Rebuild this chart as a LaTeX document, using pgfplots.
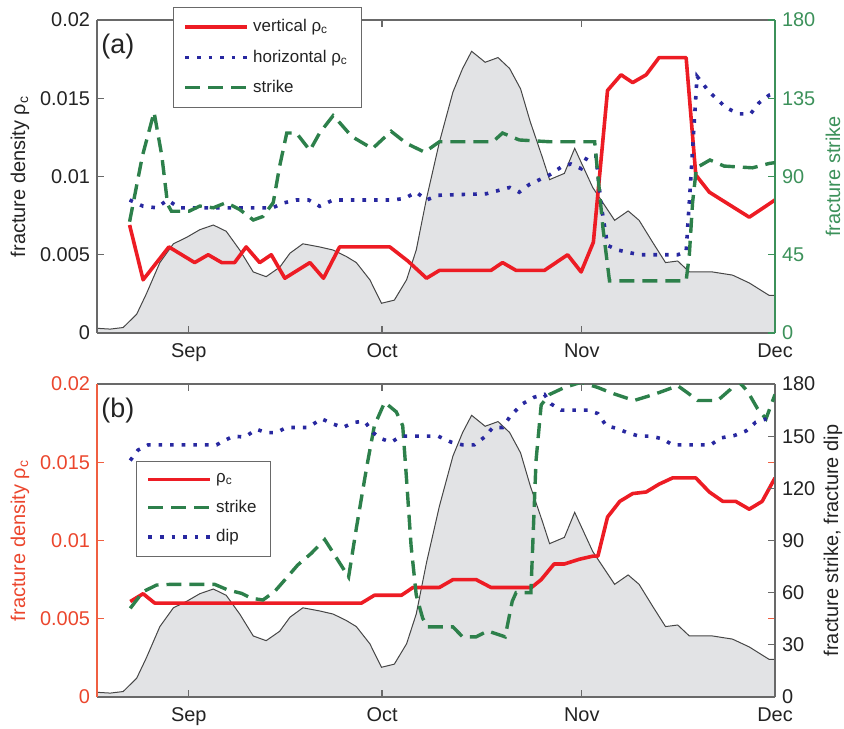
\documentclass[border=0pt]{standalone}
\usepackage{pgfplots}
\pgfplotsset{compat=1.18}
\usepackage{pgfplotstable}
\usepackage{fontspec}
\setmainfont{Liberation Sans}

\definecolor{rline}{RGB}{237,28,36}
\definecolor{bline}{RGB}{40,40,160}
\definecolor{gline}{RGB}{45,128,75}
\definecolor{gtext}{RGB}{60,145,90}
\definecolor{oaxis}{RGB}{240,95,65}
\definecolor{otext}{RGB}{235,70,45}
\definecolor{fillg}{RGB}{226,227,229}
\definecolor{curveg}{RGB}{70,70,70}
\definecolor{axg}{RGB}{105,105,105}
\definecolor{txt}{RGB}{35,35,35}

% x = days since 1 Sep
\pgfplotstableread{
x y
-14.26 0.0003
-12.2 0.00025
-10.2 0.00035
-8.1 0.0012
-6.6 0.0025
-4.5 0.0045
-2.4 0.0057
-0.4 0.0061
1.7 0.0066
3.8 0.0069
5.8 0.0065
7.9 0.0053
10.0 0.0039
12.0 0.0036
14.1 0.0042
15.7 0.0051
17.7 0.0057
20.3 0.0055
22.4 0.0053
24.4 0.0049
26.0 0.0045
28.1 0.0034
29.9 0.0019
31.9 0.0021
33.8 0.0034
35.3 0.0053
36.9 0.0086
38.9 0.0122
41.0 0.0154
42.5 0.0169
43.9 0.0180
46.0 0.0173
48.0 0.0176
49.8 0.0169
51.5 0.0156
53.0 0.0135
54.9 0.0112
56.0 0.0098
58.3 0.0102
59.9 0.0118
62.7 0.0093
66.1 0.0072
68.2 0.0078
69.9 0.0072
72.0 0.0058
74.0 0.0045
75.9 0.0046
77.7 0.0039
81.3 0.0039
84.4 0.0037
87.0 0.0032
90.1 0.0024
91.0 0.0024
}\grayt

\pgfplotstableread{
x y
-9.2 0.0069
-7.1 0.0034
-3.1 0.0055
0.9 0.0045
3.0 0.0050
5.1 0.0045
7.1 0.0045
8.9 0.0055
11.0 0.0045
12.8 0.0050
14.9 0.0035
18.8 0.0045
20.9 0.0035
23.4 0.0055
31.2 0.0055
34.0 0.0046
36.9 0.0035
38.9 0.0040
46.9 0.0040
48.7 0.0045
50.8 0.0040
55.2 0.0040
58.8 0.0050
60.9 0.0039
62.8 0.0058
65.0 0.0155
67.1 0.0165
68.9 0.0160
71.0 0.0165
73.0 0.0176
77.2 0.0176
78.7 0.0101
80.8 0.0090
87.0 0.0074
91.0 0.0085
}\redA

\pgfplotstableread{
x y
-9.2 0.0085
-7.1 0.0081
-5.0 0.0080
-3.3 0.0085
-1.5 0.0080
13.0 0.0080
14.6 0.0083
16.7 0.0085
18.6 0.0085
20.3 0.0081
22.4 0.0085
31.6 0.0085
33.5 0.0086
35.3 0.0090
36.9 0.0085
38.7 0.0088
46.2 0.0089
49.8 0.0093
51.3 0.0090
52.9 0.0095
56.0 0.0101
57.8 0.0106
59.3 0.0108
60.9 0.0105
61.9 0.0113
63.2 0.0113
64.0 0.0082
65.0 0.0056
66.6 0.0053
69.9 0.0050
75.9 0.0050
77.2 0.0052
77.9 0.0097
78.9 0.0164
80.8 0.0154
83.4 0.0144
85.4 0.0140
87.2 0.0140
88.5 0.0147
90.1 0.0152
91.0 0.0153
}\blueA

\pgfplotstableread{
x y
-9.2 64
-7.2 102
-5.4 127
-4.2 102
-3.3 74
-2.7 70
0.0 70
1.7 73
3.8 72
5.8 75
7.9 71
10.0 65
11.5 67
13.1 75
14.1 96
15.2 115
16.7 115
18.8 105
20.3 115
22.4 125
23.4 121
25.3 113
28.5 106
31.4 116
33.8 109
36.6 104
38.9 110
47.2 110
48.7 115
51.3 111
56.0 110
63.0 110
64.3 60
64.8 45
65.3 30
77.2 30
77.7 45
78.2 75
78.8 95
80.9 99.5
83.1 96
87.5 95
90.1 97.5
91.0 98
}\greenA

\pgfplotstableread{
x y
-9.1 0.0061
-7.1 0.0066
-5.3 0.0060
26.8 0.0060
28.8 0.0065
33.0 0.0065
34.8 0.0070
38.9 0.0070
41.0 0.0075
44.6 0.0075
46.9 0.0070
53.2 0.0070
54.7 0.0075
56.7 0.0085
58.3 0.0085
60.6 0.0088
62.7 0.0090
63.5 0.0090
65.0 0.0115
66.9 0.0125
68.9 0.0130
71.0 0.0131
73.0 0.0136
75.1 0.0140
78.7 0.0140
80.8 0.0131
82.9 0.0125
84.9 0.0125
87.0 0.0120
89.0 0.0125
91.0 0.0140
}\redB

\pgfplotstableread{
x y
-9.1 51
-7.1 60.6
-5.0 64.4
-2.7 64.8
4.0 64.8
6.1 61.5
8.2 59.6
9.7 56.8
11.5 55.8
13.3 60.6
15.1 68.2
16.9 75.9
19.0 82.6
21.1 90.5
22.4 83
24.8 69
26.0 97
27.6 132
28.8 156
30.4 169.5
32.2 164
33.2 156
33.8 125
34.5 87
35.3 58.7
36.3 45.3
37.1 40.3
41.0 40.3
42.5 34.6
44.6 34.6
46.4 38
49.1 34.6
50.2 55
50.8 60
53.1 60
53.9 136
54.7 168
56.0 174
58.3 178
60.9 181
63.5 178
65.5 175
69.1 170.5
72.2 174
75.9 179
77.4 175
79.0 170.5
82.1 170.5
84.1 177
85.2 182
86.7 176
88.3 165.7
89.6 160
91.0 174
}\greenB

\pgfplotstableread{
x y
-9.1 136
-7.9 142
-6.3 145
4.3 145
5.3 147
6.9 150
8.7 149.5
10.5 154
12.0 152
13.6 152
15.1 155
18.5 155
20.6 160
22.4 157
23.9 155
25.7 158
27.3 158.5
28.6 152
29.9 148.5
31.4 146.6
33.0 150
38.7 150
40.7 146.6
42.5 145
44.3 145
45.9 149.5
47.2 155
48.7 155
50.0 162
51.8 168.6
53.6 172.4
55.2 174
56.2 168.6
57.8 165
61.9 165
63.5 163
64.8 156
66.3 154.6
68.1 152
69.9 150
71.7 150
73.5 148.5
75.1 145
81.0 145
82.6 149
84.7 150.4
86.5 153
88.0 158
89.7 160
}\blueB

\pgfplotsset{
  panel/.style={width=339bp,height=156.5bp,scale only axis,
    xmin=-14.26,xmax=91,anchor=south west,
    tick align=inside, major tick length=3.5bp,
    tick label style={font=\fontsize{10}{12}\selectfont},
    label style={font=\fontsize{10}{12}\selectfont},
    scaled y ticks=false,
    /pgf/number format/assume math mode=true},
  leftax/.style={panel, axis on top,
    ymin=0,ymax=0.02,
    ytick={0,0.005,0.01,0.015,0.02},
    yticklabels={0,0.005,0.01,0.015,0.02},
    xtick={0,30,61,91}, xticklabels={Sep,Oct,Nov,Dec},
    xtick pos=both, xticklabel pos=left,
    ytick pos=both, yticklabel pos=left,
    separate axis lines,
    x axis line style={axg,line width=0.6bp},
    xtick style={draw=axg,line width=0.6bp},
    xticklabel style={text=txt, yshift=-1.8bp},
    ylabel style={at={(axis description cs:-0.1136,0.5)},anchor=center}},
  rightax/.style={panel, axis x line=none, axis y line*=right,
    ytick pos=right, yticklabel pos=right,
    ylabel style={at={(axis description cs:1.0855,0.5)},anchor=center}},
  rsty/.style={rline, line width=1.8bp, line join=round},
  bsty/.style={bline, line width=1.8bp, line cap=butt, dash pattern=on 1.8bp off 4bp},
  gsty/.style={gline, line width=1.7bp, dash pattern=on 7.5bp off 4bp},
  legend image code/.code={\draw[#1] (0bp,0bp) -- (31bp,0bp);},
}

\begin{document}
\begin{tikzpicture}
\useasboundingbox (0,0) rectangle (422bp,-364.5bp);

% ---------- panel (a) ----------
\begin{axis}[leftax, at={(48.5bp,-166.5bp)},
  y axis line style={axg,line width=0.6bp},
  ytick style={draw=axg,line width=0.6bp},
  yticklabel style={text=txt},
  ylabel={fracture density ρ\textsubscript{c}}, ylabel style={text=txt}]
\addplot[draw=none, fill=fillg] table {\grayt} \closedcycle;
\addplot[curveg, line width=0.5bp] table {\grayt};
\addplot[rsty] table {\redA};
\addplot[bsty] table {\blueA};
\node[anchor=west, inner sep=0pt, font=\fontsize{13.5}{15}\selectfont, text=txt]
  at (axis description cs:0.006,0.914) {(a)};
\end{axis}

\begin{axis}[rightax, at={(48.5bp,-166.5bp)},
  ymin=0, ymax=180, ytick={0,45,90,135,180},
  y axis line style={gtext,line width=0.6bp},
  ytick style={draw=gtext,line width=0.6bp},
  yticklabel style={text=gtext},
  ylabel={fracture strike}, ylabel style={text=gtext},
  legend style={at={(axis description cs:0.1121,1.0415)}, anchor=north west,
    draw=axg, line width=0.6bp, fill=white, text=txt,
    font=\fontsize{8.5}{10}\selectfont, inner xsep=5bp, inner ysep=4bp,
    row sep=3.5bp, cells={anchor=west}}]
\addlegendimage{rsty}
\addlegendentry{vertical ρ\textsubscript{c}}
\addlegendimage{bsty}
\addlegendentry{horizontal ρ\textsubscript{c}}
\addplot[gsty] table {\greenA};
\addlegendentry{strike}
\end{axis}

% ---------- panel (b) ----------
\begin{axis}[leftax, at={(48.5bp,-348.5bp)},
  y axis line style={oaxis,line width=0.6bp},
  ytick style={draw=oaxis,line width=0.6bp},
  yticklabel style={text=otext},
  ylabel={fracture density ρ\textsubscript{c}}, ylabel style={text=otext}]
\addplot[draw=none, fill=fillg] table {\grayt} \closedcycle;
\addplot[curveg, line width=0.5bp] table {\grayt};
\addplot[rsty] table {\redB};
\node[anchor=west, inner sep=0pt, font=\fontsize{13.5}{15}\selectfont, text=txt]
  at (axis description cs:0.006,0.914) {(b)};
\end{axis}

\begin{axis}[rightax, at={(48.5bp,-348.5bp)},
  ymin=0, ymax=180, ytick={0,30,60,90,120,150,180},
  y axis line style={axg,line width=0.6bp},
  ytick style={draw=axg,line width=0.6bp},
  yticklabel style={text=txt},
  ylabel={fracture strike, fracture dip}, ylabel style={text=txt},
  legend style={at={(axis description cs:0.0575,0.7548)}, anchor=north west,
    draw=axg, line width=0.6bp, fill=white, text=txt,
    font=\fontsize{8.5}{10}\selectfont, inner xsep=5bp, inner ysep=4bp,
    row sep=3.2bp, cells={anchor=west}}]
\addlegendimage{rsty}
\addlegendentry{ρ\textsubscript{c}}
\addplot[gsty] table {\greenB};
\addlegendentry{strike}
\addplot[bsty] table {\blueB};
\addlegendentry{dip}
\end{axis}
\end{tikzpicture}
\end{document}
